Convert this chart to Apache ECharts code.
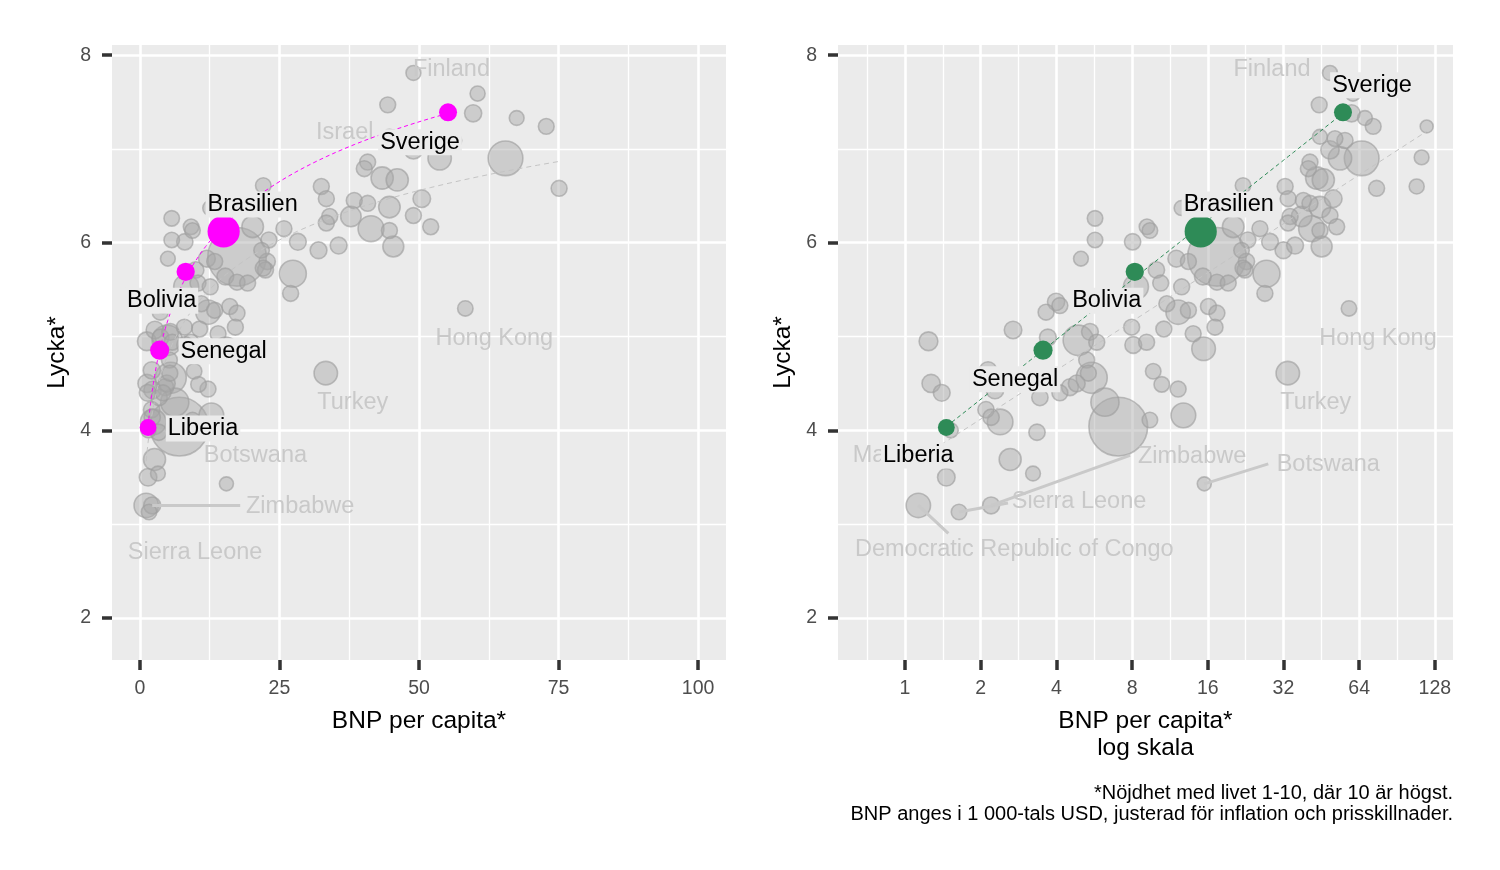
<!DOCTYPE html>
<html>
<head>
<meta charset="utf-8">
<script src="https://cdn.jsdelivr.net/npm/echarts@6/dist/echarts.min.js"></script>
<style>
html, body { margin: 0; padding: 0; background: #fff; }
#chart { width: 1500px; height: 870px; }
</style>
</head>
<body>
<div id="chart"></div>
<script>
// BNP per capita (1000 USD), lycka (1-10) och folkmängd (miljoner)
// de första posterna har namn (land), resten är omärkta länder
var land = ['Malawi', 'Democratic Republic of Congo', 'Sierra Leone', 'Zimbabwe',
    'Botswana', 'Turkey', 'Hong Kong', 'Israel', 'Finland'];
var bnp = [1.46, 1.13, 1.64, 2.20, 15.5, 33.3, 58.3, 44.4, 49.0,
    1.24, 1.27, 1.40, 1.52, 2.69, 3.64, 3.99, 4.13, 3.70, 2.14,
    2.28, 2.10, 2.20, 2.39, 3.44, 3.35, 2.62, 3.23,
    5.70, 5.70, 5.01, 8.04, 9.17, 9.42, 12.6, 22.1,
    20.2, 23.1, 17.4, 21.8, 22.8, 10.0, 12.0, 13.4, 8.29, 10.4,
    12.6, 15.3, 17.4, 19.3, 22.5, 11.0, 12.2, 13.4, 16.1, 17.4,
    17.1, 14.0, 10.7, 7.97, 5.44, 5.79, 4.89, 8.09, 9.14, 15.4,
    5.28, 5.36, 5.53, 4.53, 4.13, 9.71, 10.5, 12.2, 6.24, 7.05,
    9.42, 12.8, 4.82, 27.0, 60.5,
    59.7, 67.5, 72.8, 118.8, 44.7, 51.3, 56.2, 65.5, 49.0, 53.7,
    40.8, 40.2, 46.1, 43.4, 113.4, 75.1, 108.4, 32.5, 33.4, 38.4,
    40.8, 44.7, 50.5, 49.0, 52.1, 34.0, 33.4, 37.8, 41.4, 44.7,
    25.8, 28.3, 32.0, 35.6, 45.4, 27.4, 22.1];
var lycka = [3.50, 3.20, 3.13, 3.20, 3.43, 4.61, 5.30, 7.47, 7.81,
    4.95, 4.50, 4.40, 4.00, 5.07, 5.26, 5.37, 5.33, 4.99, 4.64,
    4.43, 4.22, 4.14, 4.09, 4.35, 3.98, 3.69, 3.54,
    6.26, 6.03, 5.83, 6.01, 6.17, 6.13, 6.37, 6.61,
    6.17, 6.03, 5.85, 5.92, 5.80, 5.71, 5.83, 5.80, 5.53, 5.57,
    5.53, 5.64, 5.58, 5.57, 5.71, 5.35, 5.26, 5.28, 5.32, 5.25,
    5.10, 5.03, 5.08, 5.10, 5.05, 4.94, 4.96, 4.91, 4.94, 4.87,
    4.75, 4.61, 4.56, 4.46, 4.40, 4.63, 4.49, 4.44, 4.30, 4.04,
    4.11, 4.16, 4.50, 5.46, 7.59,
    7.38, 7.33, 7.24, 7.24, 7.13, 7.11, 7.09, 6.90, 6.99, 6.90,
    6.86, 6.79, 6.67, 6.69, 6.91, 6.58, 6.60, 6.60, 6.47, 6.45,
    6.42, 6.38, 6.47, 6.29, 6.17, 6.28, 6.21, 6.28, 6.15, 6.13,
    6.15, 6.01, 5.92, 5.97, 5.96, 5.67, 5.73];
var folk = [20, 100, 8, 16, 2.6, 85, 7.5, 9.5, 5.5,
    30, 25, 15, 6, 20, 10, 18, 10, 15, 18,
    20, 12, 12, 120, 12, 12, 65, 5,
    8, 8, 5, 12, 8, 8, 6, 8,
    60, 10, 1410, 8, 12, 12, 15, 10, 110, 10,
    10, 15, 10, 10, 10, 10, 100, 10, 10, 10,
    10, 10, 10, 10, 15, 10, 220, 15, 10, 88,
    10, 10, 235, 15, 10, 8, 8, 10, 170, 1420,
    8, 105, 15, 10, 6,
    17, 5, 9, 0.6, 5, 9, 11, 335, 26, 84,
    10, 10, 67, 68, 5, 10, 6, 10, 10, 10,
    10, 59, 20, 10, 10, 10, 10, 47, 125, 10,
    10, 15, 15, 15, 52, 145, 10];

// utvalda länder
var hlLand = ['Liberia', 'Senegal', 'Bolivia', 'Brasilien', 'Sverige'];
var hlBnp = [1.46, 3.54, 8.2, 15.0, 55.2];
var hlLycka = [4.03, 4.855, 5.69, 6.12, 7.39];
var hlFolk = [5.3, 17, 12, 215, 10.5];

// axlar
var linTicks = [0, 25, 50, 75, 100];
var linMinor = [12.5, 37.5, 62.5, 87.5];
var logTicks = [1, 2, 4, 8, 16, 32, 64, 128];
var yTicks = [2, 4, 6, 8];
var yMinor = [3, 5, 7];

var fotnot = ['*Nöjdhet med livet 1-10, där 10 är högst.',
    'BNP anges i 1 000-tals USD, justerad för inflation och prisskillnader.'];

// etikettplacering (pixlar från punkten): [dx, dy, linjeslut dx, linjeslut dy]
var hlOffLeft = [[55, 1], [64, 1], [-24, 29], [29, -27], [-28, 30]];
var hlOffRight = [[-28, 28], [-28, 29], [-28, 29], [28, -27], [29, -27]];
var ghostLeft = {
    'Finland': [38, -3], 'Israel': [-43, 28], 'Hong Kong': [29, 30],
    'Turkey': [27, 29], 'Botswana': [29, -28], 'Zimbabwe': [148, 1, 88, 0],
    'Sierra Leone': [46, 41]
};
var ghostRight = {
    'Finland': [-58, -3], 'Hong Kong': [29, 30], 'Turkey': [28, 29],
    'Zimbabwe': [201, -49, 139, -50], 'Botswana': [124, -19, 64, -20],
    'Sierra Leone': [120, -10, 49, -9], 'Democratic Republic of Congo': [96, 44, 30, 28],
    'Malawi': [-57, -22]
};

var FONT = '"Liberation Sans", Arial, sans-serif';
var GHOST = '#c9c9c9';

var chartDom = document.getElementById('chart');
var myChart = echarts.init(chartDom);

function fit(lx, ly) {
    var n = lx.length, mx = 0, my = 0, sxy = 0, sxx = 0, i;
    for (i = 0; i < n; i++) { mx += lx[i]; my += ly[i]; }
    mx /= n; my /= n;
    for (i = 0; i < n; i++) {
        sxy += (lx[i] - mx) * (ly[i] - my);
        sxx += (lx[i] - mx) * (lx[i] - mx);
    }
    var b = sxy / sxx;
    return { a: my - b * mx, b: b, lo: Math.min.apply(null, lx), hi: Math.max.apply(null, lx) };
}

// linjens punkter längs den skattade modellen y = a + b*log2(x)
function fitCurve(f, logScale) {
    var pts = [];
    for (var k = 0; k <= 80; k++) {
        var e = f.lo + (f.hi - f.lo) * k / 80;
        pts.push([logScale ? e : Math.pow(2, e), f.a + f.b * e]);
    }
    return pts;
}

function labelRender(names, offs, color, bg) {
    return function (params, api) {
        var i = params.dataIndex;
        var p = api.coord([api.value(0), api.value(1)]);
        var o = offs[i];
        var kids = [];
        if (o.length > 2) {
            kids.push({
                type: 'line',
                shape: { x1: p[0], y1: p[1], x2: p[0] + o[2], y2: p[1] + o[3] },
                style: { stroke: GHOST, lineWidth: 3 }
            });
        }
        kids.push({
            type: 'text', x: p[0] + o[0], y: p[1] + o[1],
            style: {
                text: names[i], fill: color, font: '23.5px ' + FONT,
                align: 'center', verticalAlign: 'middle',
                backgroundColor: bg || null, padding: bg ? [1, 2] : 0
            }
        });
        return { type: 'group', children: kids };
    };
}

function panel(p, logScale, hlColor, hlOff, ghostOff) {
    var xf = logScale ? function (v) { return Math.log2(v); } : function (v) { return v; };
    var keep = logScale ? function () { return true; } : function (v) { return v <= 100; };
    var ax = p * 2;

    var grey = [], lx = [], ly = [];
    for (var i = 0; i < bnp.length; i++) {
        if (!keep(bnp[i])) continue;
        grey.push([xf(bnp[i]), lycka[i], folk[i]]);
        lx.push(Math.log2(bnp[i])); ly.push(lycka[i]);
    }
    grey.sort(function (a, b) { return b[2] - a[2]; });

    var hl = [], hx = [];
    for (i = 0; i < hlLand.length; i++) {
        hl.push([xf(hlBnp[i]), hlLycka[i], hlFolk[i]]);
        hx.push(Math.log2(hlBnp[i]));
        lx.push(Math.log2(hlBnp[i])); ly.push(hlLycka[i]);
    }

    var gNames = [], gOffs = [], gData = [];
    for (i = 0; i < land.length; i++) {
        if (ghostOff[land[i]] && keep(bnp[i])) {
            gNames.push(land[i]); gOffs.push(ghostOff[land[i]]);
            gData.push([xf(bnp[i]), lycka[i]]);
        }
    }

    var base = { xAxisIndex: ax, yAxisIndex: ax, silent: true };
    return [
        Object.assign({
            type: 'scatter', z: 2, data: grey,
            symbolSize: function (v) { return 2 * (6 + 0.62 * Math.sqrt(v[2])); },
            itemStyle: { color: 'rgba(168,168,168,0.58)', borderColor: 'rgba(158,158,158,0.8)', borderWidth: 1.6 }
        }, base),
        Object.assign({
            type: 'custom', z: 3, data: gData,
            renderItem: labelRender(gNames, gOffs, GHOST, null)
        }, base),
        Object.assign({
            type: 'line', z: 4, showSymbol: false, data: fitCurve(fit(lx, ly), logScale),
            lineStyle: { color: '#c4c4c4', width: 1, type: [5, 4] }
        }, base),
        Object.assign({
            type: 'line', z: 5, showSymbol: false, data: fitCurve(fit(hx, hlLycka), logScale),
            lineStyle: { color: hlColor, width: 1, type: [4, 3] }
        }, base),
        Object.assign({
            type: 'scatter', z: 6, data: hl,
            symbolSize: function (v) { return 2 * (7 + 0.62 * Math.sqrt(v[2])); },
            itemStyle: { color: hlColor, opacity: 1 }
        }, base),
        Object.assign({
            type: 'custom', z: 7, data: hl.map(function (d) { return [d[0], d[1]]; }),
            renderItem: labelRender(hlLand, hlOff, '#000', '#ebebeb')
        }, base)
    ];
}

function xAxes(g, min, max, major, minor, fmt, name) {
    return [{
        type: 'value', gridIndex: g, min: min, max: max, position: 'bottom',
        axisLine: { show: false, onZero: false },
        axisTick: { show: true, customValues: major, length: 10, lineStyle: { color: '#333333', width: 3.5 } },
        axisLabel: { customValues: major, formatter: fmt, margin: 19, color: '#4d4d4d', fontSize: 19.5, fontFamily: FONT },
        splitLine: { show: true, lineStyle: { color: '#ffffff', width: 2.6 } },
        name: name, nameLocation: 'middle', nameGap: 48,
        nameTextStyle: { color: '#000', fontSize: 24.5, fontFamily: FONT, lineHeight: 27 }
    }, {
        type: 'value', gridIndex: g, min: min, max: max, position: 'top',
        axisLine: { show: false, onZero: false },
        axisTick: { show: false, customValues: minor },
        axisLabel: { show: false },
        splitLine: { show: true, lineStyle: { color: '#ffffff', width: 1.3 } }
    }];
}

function yAxes(g) {
    return [{
        type: 'value', gridIndex: g, min: 1.552, max: 8.108, position: 'left',
        axisLine: { show: false, onZero: false },
        axisTick: { show: true, customValues: yTicks, length: 10, lineStyle: { color: '#333333', width: 3.5 } },
        axisLabel: { customValues: yTicks, margin: 21, color: '#4d4d4d', fontSize: 19.5, fontFamily: FONT },
        splitLine: { show: true, lineStyle: { color: '#ffffff', width: 2.6 } },
        name: 'Lycka*', nameLocation: 'middle', nameGap: 42,
        nameTextStyle: { color: '#000', fontSize: 24.5, fontFamily: FONT }
    }, {
        type: 'value', gridIndex: g, min: 1.552, max: 8.108, position: 'right',
        axisLine: { show: false, onZero: false },
        axisTick: { show: false, customValues: yMinor },
        axisLabel: { show: false },
        splitLine: { show: true, lineStyle: { color: '#ffffff', width: 1.3 } }
    }];
}

var logMajor = logTicks.map(function (v) { return Math.log2(v); });
var logMinor = logMajor.map(function (e) { return e - 0.5; });

var option = {
    animation: false,
    backgroundColor: '#ffffff',
    grid: [
        { left: 112, top: 45, width: 614, height: 615, show: true, backgroundColor: '#ebebeb', borderWidth: 0, outerBoundsMode: 'none' },
        { left: 838, top: 45, width: 615, height: 615, show: true, backgroundColor: '#ebebeb', borderWidth: 0, outerBoundsMode: 'none' }
    ],
    xAxis: xAxes(0, -5, 105, linTicks, linMinor, function (v) { return String(v); }, 'BNP per capita*')
        .concat(xAxes(1, -0.885, 7.24, logMajor, logMinor,
            function (v) { return String(Math.round(Math.pow(2, v))); }, 'BNP per capita*\nlog skala')),
    yAxis: yAxes(0).concat(yAxes(1)),
    series: panel(0, false, '#ff00ff', hlOffLeft, ghostLeft)
        .concat(panel(1, true, '#2e8b57', hlOffRight, ghostRight)),
    graphic: fotnot.map(function (t, i) {
        return {
            type: 'text', right: 47, top: 783 + i * 21,
            style: { text: t, font: '20px ' + FONT, fill: '#000' }
        };
    })
};

option && myChart.setOption(option);
</script>
</body>
</html>
